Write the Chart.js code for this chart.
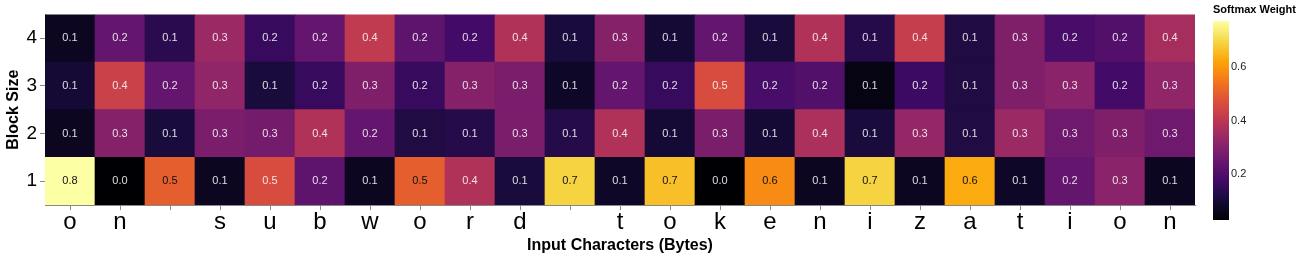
<!DOCTYPE html>
<html>
<head>
<meta charset="utf-8">
<script src="https://cdn.jsdelivr.net/npm/chart.js@4.4.0/dist/chart.umd.min.js"></script>
<style>
    html, body { margin: 0; padding: 0; background: #fff; }
    #wrap { position: relative; width: 1301px; height: 258px; }
    #chartMapa { position: absolute; left: 0; top: 0; }
    #chartBarra { position: absolute; left: 1195px; top: 0; }
</style>
</head>
<body>
<div id="wrap">
    <canvas id="chartMapa" width="1301" height="258"></canvas>
    <canvas id="chartBarra" width="106" height="258"></canvas>
</div>
<script>

// datos
const caracteres = ['o', 'n', ' ', 's', 'u', 'b', 'w', 'o', 'r', 'd', ' ', 't', 'o', 'k', 'e', 'n', 'i', 'z', 'a', 't', 'i', 'o', 'n']
const bloques = [1, 2, 3, 4]

const pesos1 = [0.77, 0.03, 0.50, 0.07, 0.46, 0.23, 0.07, 0.50, 0.38, 0.11, 0.69, 0.08, 0.66, 0.03, 0.58, 0.07, 0.69, 0.07, 0.63, 0.08, 0.24, 0.31, 0.07]
const pesos2 = [0.07, 0.30, 0.11, 0.28, 0.27, 0.38, 0.24, 0.12, 0.13, 0.28, 0.13, 0.38, 0.10, 0.28, 0.10, 0.37, 0.11, 0.33, 0.12, 0.34, 0.26, 0.29, 0.26]
const pesos3 = [0.10, 0.43, 0.24, 0.32, 0.11, 0.16, 0.29, 0.16, 0.30, 0.28, 0.08, 0.24, 0.16, 0.46, 0.19, 0.21, 0.05, 0.17, 0.12, 0.29, 0.31, 0.18, 0.32]
const pesos4 = [0.07, 0.24, 0.14, 0.34, 0.16, 0.24, 0.41, 0.23, 0.18, 0.38, 0.11, 0.30, 0.10, 0.24, 0.11, 0.38, 0.13, 0.42, 0.12, 0.29, 0.19, 0.21, 0.36]

const ticksBarra = [0.2, 0.4, 0.6]

const filas = [pesos1, pesos2, pesos3, pesos4]
const todos = filas.flat()
const vMin = Math.min(...todos)
const vMax = Math.max(...todos)

// paleta inferno
const inferno = ['#000004', '#160b39', '#420a68', '#6a176e', '#932667', '#bc3754', '#dd513a', '#f37819', '#fca50a', '#f6d746', '#fcffa4']

function hexRgb(h) {
    return [parseInt(h.slice(1, 3), 16), parseInt(h.slice(3, 5), 16), parseInt(h.slice(5, 7), 16)]
}

function colorInferno(v) {
    let t = (v - vMin) / (vMax - vMin)
    t = Math.max(0, Math.min(1, t))
    const p = t * (inferno.length - 1)
    const i = Math.min(Math.floor(p), inferno.length - 2)
    const f = p - i
    const a = hexRgb(inferno[i])
    const b = hexRgb(inferno[i + 1])
    const c = a.map((x, k) => Math.round(x + (b[k] - x) * f))
    return 'rgb(' + c.join(',') + ')'
}

Chart.defaults.font.family = '"Liberation Sans", Arial, Helvetica, sans-serif'
Chart.defaults.color = '#000'

const etiquetas = {
    id: 'etiquetas',
    afterDatasetsDraw(chart) {
        const ctx = chart.ctx
        ctx.save()
        ctx.font = '11px "Liberation Sans", Arial, sans-serif'
        ctx.textAlign = 'center'
        ctx.textBaseline = 'middle'
        chart.data.datasets.forEach((ds, i) => {
            chart.getDatasetMeta(i).data.forEach((bar, j) => {
                const v = ds.pesos[j]
                ctx.fillStyle = v > 0.48 ? '#111' : 'rgba(255,255,255,0.85)'
                ctx.fillText(v.toFixed(1), bar.x, (bar.y + bar.base) / 2)
            })
        })
        ctx.restore()
    }
}

function Mapa() {

    const datasets = filas.map((fila, r) => {
        return {
            label: 'Block ' + bloques[r],
            data: fila.map(() => [bloques[r] - 0.5, bloques[r] + 0.5]),
            pesos: fila,
            backgroundColor: fila.map(colorInferno),
            borderWidth: 0,
            grouped: false,
            barPercentage: 1,
            categoryPercentage: 1
        }
    })

    const config = {
        type: 'bar',
        data: {
            labels: caracteres,
            datasets: datasets
        },
        options: {
            responsive: false,
            animation: false,
            events: [],
            layout: { padding: { top: 5, right: 106, bottom: 0, left: 0 } },
            plugins: {
                legend: { display: false },
                tooltip: { enabled: false }
            },
            scales: {
                x: {
                    grid: { drawOnChartArea: false, drawTicks: true, tickLength: 5, color: '#888', offset: false },
                    border: { display: true, color: '#888' },
                    ticks: { font: { size: 24, lineHeight: 1 }, color: '#000', padding: 0, maxRotation: 0, autoSkip: false },
                    title: {
                        display: true,
                        text: 'Input Characters (Bytes)',
                        font: { size: 16, weight: 'bold' },
                        padding: { top: 0, bottom: 3 }
                    },
                    afterFit: (s) => { s.height = 53 }
                },
                y: {
                    type: 'linear',
                    min: 0.5,
                    max: 4.5,
                    afterBuildTicks: (s) => { s.ticks = bloques.map(v => ({ value: v })) },
                    grid: { drawOnChartArea: false, tickLength: 5, color: '#888' },
                    border: { display: true, color: '#888' },
                    ticks: { font: { size: 19 }, color: '#000', padding: 3 },
                    title: {
                        display: true,
                        text: 'Block Size',
                        font: { size: 16, weight: 'bold' },
                        padding: { top: 4, bottom: 0 }
                    },
                    afterFit: (s) => { s.width = 45 }
                }
            }
        },
        plugins: [etiquetas]
    }

    const graficoMapa = new Chart(document.getElementById('chartMapa'), config)
}

function degradado(context) {
    const chart = context.chart
    if (!chart.chartArea) return null
    const y = chart.scales.y
    const g = chart.ctx.createLinearGradient(0, y.getPixelForValue(vMin), 0, y.getPixelForValue(vMax))
    inferno.forEach((c, i) => g.addColorStop(i / (inferno.length - 1), c))
    return g
}

const tituloBarra = {
    id: 'tituloBarra',
    afterDraw(chart) {
        const ctx = chart.ctx
        ctx.save()
        ctx.font = 'bold 11px "Liberation Sans", Arial, sans-serif'
        ctx.fillStyle = '#000'
        ctx.textAlign = 'left'
        ctx.textBaseline = 'middle'
        ctx.fillText('Softmax Weight', chart.chartArea.left, 10)
        ctx.restore()
    }
}

function Barra() {

    const config = {
        type: 'bar',
        data: {
            labels: [''],
            datasets: [{
                data: [[vMin, vMax]],
                backgroundColor: degradado,
                borderWidth: 0,
                barPercentage: 1,
                categoryPercentage: 1
            }]
        },
        options: {
            responsive: false,
            animation: false,
            events: [],
            layout: { padding: { left: 18, top: 21, bottom: 38, right: 0 } },
            plugins: {
                legend: { display: false },
                tooltip: { enabled: false }
            },
            scales: {
                x: { display: false },
                y: {
                    position: 'right',
                    min: vMin,
                    max: vMax,
                    afterBuildTicks: (s) => { s.ticks = ticksBarra.map(v => ({ value: v })) },
                    grid: { display: false, drawTicks: false },
                    border: { display: false },
                    ticks: { font: { size: 11 }, color: '#222', padding: 2, callback: (v) => v.toFixed(1) },
                    afterFit: (s) => { s.width = 72 }
                }
            }
        },
        plugins: [tituloBarra]
    }

    const graficoBarra = new Chart(document.getElementById('chartBarra'), config)
}

Mapa()
Barra()

</script>
</body>
</html>
